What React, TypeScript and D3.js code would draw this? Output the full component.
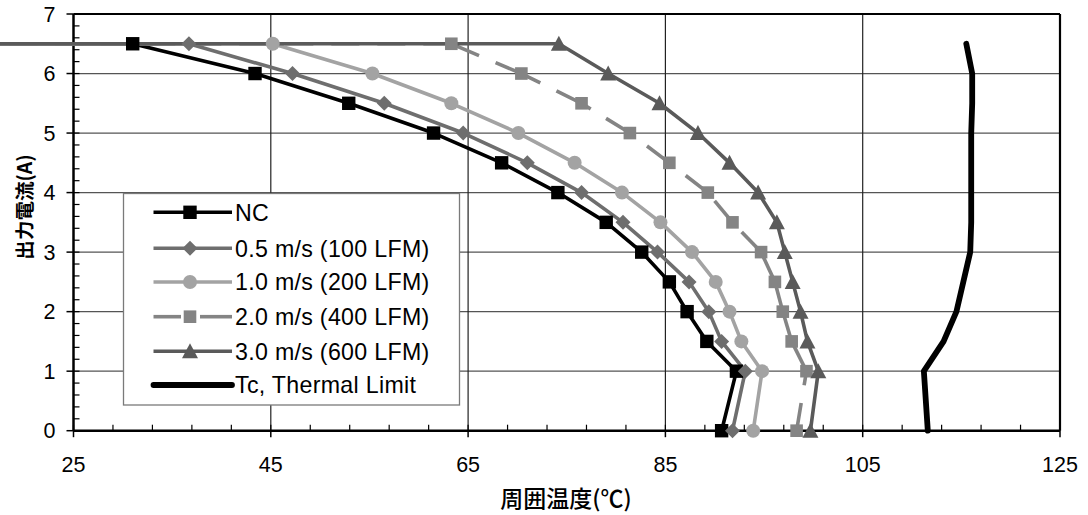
import React from "react";
import * as d3 from "d3";

// ---- data ----
const currents = [0, 1, 1.5, 2, 2.5, 3, 3.5, 4, 4.5, 5, 5.5, 6, 6.5];
const ncTemps = [90.7, 92.2, 89.2, 87.2, 85.4, 82.6, 79.0, 74.1, 68.4, 61.5, 52.9, 43.4, 31.0];
const ms05Temps = [91.8, 93.1, 90.7, 89.4, 87.4, 84.2, 80.7, 76.5, 71.0, 64.5, 56.5, 47.2, 36.7];
const ms10Temps = [93.9, 94.8, 92.7, 91.5, 90.1, 87.7, 84.5, 80.6, 75.8, 70.1, 63.3, 55.3, 45.2];
const ms20Temps = [98.3, 99.3, 97.8, 96.9, 96.1, 94.7, 91.8, 89.3, 85.4, 81.4, 76.5, 70.4, 63.3];
const ms30Temps = [99.7, 100.5, 99.4, 98.7, 97.9, 97.1, 96.3, 94.4, 91.5, 88.3, 84.4, 79.2, 74.2];
const tcTemps = [111.6, 111.2, 113.2, 114.5, 115.2, 115.9, 116.0, 116.0, 116.0, 116.0, 116.1, 116.1, 115.5];
// derating curves start at the lowest ambient with full current
const lowAmbientTemp = -40;
const lowAmbientCurrent = 6.5;

const seriesNames = [
  "NC",
  "0.5 m/s (100 LFM)",
  "1.0 m/s (200 LFM)",
  "2.0 m/s (400 LFM)",
  "3.0 m/s (600 LFM)",
  "Tc, Thermal Limit",
];
const xTicks = [25, 45, 65, 85, 105, 125];
const yTicks = [0, 1, 2, 3, 4, 5, 6, 7];
const xTitle = "周囲温度(℃)";
const yTitle = "出力電流(A)";

type Marker = "square" | "diamond" | "circle" | "sq2" | "triangle" | "none";
interface Series {
  name: string;
  temps: number[];
  color: string;
  width: number;
  dash?: string;
  marker: Marker;
  extend: boolean;
}

const series: Series[] = [
  { name: seriesNames[0], temps: ncTemps, color: "#000000", width: 3.6, marker: "square", extend: true },
  { name: seriesNames[1], temps: ms05Temps, color: "#6e6e6e", width: 3.6, marker: "diamond", extend: true },
  { name: seriesNames[2], temps: ms10Temps, color: "#a3a3a3", width: 3.6, marker: "circle", extend: true },
  { name: seriesNames[3], temps: ms20Temps, color: "#848484", width: 3.6, dash: "28,18", marker: "sq2", extend: true },
  { name: seriesNames[4], temps: ms30Temps, color: "#5a5a5a", width: 3.6, marker: "triangle", extend: true },
  { name: seriesNames[5], temps: tcTemps, color: "#000000", width: 5.8, marker: "none", extend: false },
];

const W = 1088;
const H = 515;
const x = d3.scaleLinear().domain([25, 125]).range([73.5, 1060]);
const y = d3.scaleLinear().domain([0, 7]).range([430.7, 14]);

function markerEl(m: Marker, cx: number, cy: number, color: string, key: string) {
  switch (m) {
    case "square":
      return <rect key={key} x={cx - 6.7} y={cy - 6.7} width={13.4} height={13.4} fill={color} />;
    case "sq2":
      return <rect key={key} x={cx - 6.3} y={cy - 6.3} width={12.6} height={12.6} fill={color} />;
    case "diamond":
      return (
        <path key={key} d={`M${cx},${cy - 7.5}L${cx + 7.5},${cy}L${cx},${cy + 7.5}L${cx - 7.5},${cy}Z`} fill={color} />
      );
    case "circle":
      return <circle key={key} cx={cx} cy={cy} r={7} fill={color} />;
    case "triangle":
      return (
        <path key={key} d={`M${cx},${cy - 8}L${cx + 8},${cy + 7}L${cx - 8},${cy + 7}Z`} fill={color} />
      );
    default:
      return null;
  }
}

export default function App() {
  const line = d3
    .line<[number, number]>()
    .x((d) => x(d[0]))
    .y((d) => y(d[1]));

  const font = "'Liberation Sans', Arial, sans-serif";
  const cjk = "'Noto Sans CJK JP', 'Liberation Sans', sans-serif";

  const xMinor = d3.range(25, 125.01, 4);
  const yMinor = d3.range(0, 7.001, 0.2);

  // legend geometry
  const lg = { x: 123.5, y: 193.5, w: 336, h: 211.5 };
  const rowYs = [212.3, 248.3, 282, 316.7, 351.3, 385];

  return (
    <svg
      width={W}
      height={H}
      style={{ position: "absolute", left: 0, top: 0, background: "#fff" }}
      xmlns="http://www.w3.org/2000/svg"
    >
      <rect x={0} y={0} width={W} height={H} fill="#fff" />
      {/* gridlines */}
      {yTicks.slice(1, -1).map((t) => (
        <line key={"gy" + t} x1={x(25)} x2={x(125)} y1={y(t)} y2={y(t)} stroke="#555" strokeWidth={1.2} />
      ))}
      {xTicks.slice(1, -1).map((t) => (
        <line key={"gx" + t} x1={x(t)} x2={x(t)} y1={y(0)} y2={y(7)} stroke="#222" strokeWidth={1.2} />
      ))}
      {/* minor ticks */}
      {xMinor.map((t, i) => (
        <line key={"xm" + i} x1={x(t)} x2={x(t)} y1={y(0)} y2={y(0) - 6} stroke="#000" strokeWidth={1.2} />
      ))}
      {yMinor.map((t, i) => (
        <line key={"ym" + i} x1={x(25)} x2={x(25) + 6} y1={y(t)} y2={y(t)} stroke="#000" strokeWidth={1.2} />
      ))}
      {/* major ticks */}
      {xTicks.map((t) => (
        <line key={"xt" + t} x1={x(t)} x2={x(t)} y1={y(0)} y2={y(0) + 6.5} stroke="#000" strokeWidth={1.5} />
      ))}
      {yTicks.map((t) => (
        <line key={"yt" + t} x1={x(25) - 7} x2={x(25)} y1={y(t)} y2={y(t)} stroke="#000" strokeWidth={1.5} />
      ))}
      {/* frame */}
      <line x1={x(25)} x2={x(125)} y1={y(7)} y2={y(7)} stroke="#000" strokeWidth={2.2} />
      <line x1={x(125)} x2={x(125)} y1={y(7)} y2={y(0)} stroke="#000" strokeWidth={2.2} />
      <line x1={x(25)} x2={x(125)} y1={y(0)} y2={y(0)} stroke="#000" strokeWidth={2.5} />
      <line x1={x(25)} x2={x(25)} y1={y(7)} y2={y(0)} stroke="#000" strokeWidth={2.5} />

      {/* legend box (drawn before series, hides grid) */}
      <rect x={lg.x} y={lg.y} width={lg.w} height={lg.h} fill="#fff" stroke="#7a7a7a" strokeWidth={1.3} />

      {/* series lines */}
      {series.map((s, si) => {
        const pts: [number, number][] = currents.map((c, i) => [s.temps[i], c]);
        if (s.dash) {
          const segs = [];
          for (let i = 0; i < pts.length - 1; i++) {
            segs.push(
              <path
                key={"seg" + i}
                d={line([pts[i], pts[i + 1]]) || ""}
                fill="none"
                stroke={s.color}
                strokeWidth={s.width}
                strokeDasharray={s.dash}
              />
            );
          }
          if (s.extend) {
            segs.push(
              <path
                key="ext"
                d={line([pts[pts.length - 1], [lowAmbientTemp, lowAmbientCurrent]]) || ""}
                fill="none"
                stroke={s.color}
                strokeWidth={s.width}
                strokeDasharray={s.dash}
              />
            );
          }
          return <g key={"l" + si}>{segs}</g>;
        }
        const all = s.extend ? [...pts, [lowAmbientTemp, lowAmbientCurrent] as [number, number]] : pts;
        return (
          <path
            key={"l" + si}
            d={line(all) || ""}
            fill="none"
            stroke={s.color}
            strokeWidth={s.width}
            strokeLinejoin="round"
            strokeLinecap={s.marker === "none" ? "round" : "butt"}
          />
        );
      })}
      {/* markers */}
      {series.map((s, si) => (
        <g key={"m" + si}>
          {currents.map((c, i) => markerEl(s.marker, x(s.temps[i]), y(c), s.color, "mk" + i))}
        </g>
      ))}

      {/* legend entries */}
      {series.map((s, i) => {
        const ry = rowYs[i];
        return (
          <g key={"lg" + i}>
            {s.dash ? (
              <g>
                <line x1={153.5} x2={181} y1={ry} y2={ry} stroke={s.color} strokeWidth={s.width} />
                <line x1={200} x2={232} y1={ry} y2={ry} stroke={s.color} strokeWidth={s.width} />
              </g>
            ) : (
              <line
                x1={153.5}
                x2={232}
                y1={ry}
                y2={ry}
                stroke={s.color}
                strokeWidth={s.width}
                strokeLinecap={s.marker === "none" ? "round" : "butt"}
              />
            )}
            {markerEl(s.marker, 190, ry, s.color, "lm" + i)}
            <text x={235} y={ry + 8.3} fontFamily={font} fontSize={23.2} letterSpacing={0.3} fill="#000">
              {s.name}
            </text>
          </g>
        );
      })}

      {/* tick labels */}
      {xTicks.map((t) => (
        <text key={"xl" + t} x={x(t)} y={472} textAnchor="middle" fontFamily={font} fontSize={21.5} fill="#000">
          {t}
        </text>
      ))}
      {yTicks.map((t) => (
        <text key={"yl" + t} x={55.5} y={y(t) + 7.7} textAnchor="end" fontFamily={font} fontSize={21.5} fill="#000">
          {t}
        </text>
      ))}

      {/* axis titles */}
      <text x={566} y={507} textAnchor="middle" fontFamily={cjk} fontWeight={500} fontSize={23} fill="#000">
        {xTitle}
      </text>
      <text
        transform="translate(32,207) rotate(-90)"
        textAnchor="middle"
        fontFamily={cjk}
        fontWeight="bold"
        fontSize={19.5}
        fill="#000"
      >
        {yTitle}
      </text>
    </svg>
  );
}
